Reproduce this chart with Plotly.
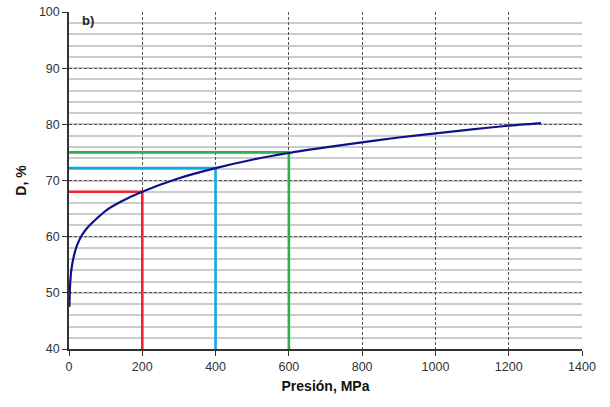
import plotly.graph_objects as go

# Curve data
presion = [1, 2.7, 6.4, 12.7, 22, 35.5, 49, 72, 100, 141, 198, 300, 400, 500, 599, 700, 799, 900, 1001, 1100, 1199, 1288]
densidad = [47.5, 51.1, 54.1, 56.4, 58.5, 60.3, 61.5, 63.0, 64.6, 66.2, 67.95, 70.4, 72.2, 73.7, 74.9, 75.9, 76.8, 77.65, 78.4, 79.1, 79.75, 80.2]

# Reference marker lines
ref_x = [200, 400, 600]
ref_y = [68.0, 72.2, 75.0]
ref_colors = ["#f5222d", "#12a8e8", "#2eb04a"]

x_ticks = [0, 200, 400, 600, 800, 1000, 1200, 1400]
y_ticks = [40, 50, 60, 70, 80, 90, 100]

fig = go.Figure()

for rx, ry, col in zip(ref_x, ref_y, ref_colors):
    fig.add_trace(go.Scatter(
        x=[0, rx, rx], y=[ry, ry, 40], mode="lines",
        line=dict(color=col, width=2.6), showlegend=False, hoverinfo="skip"))

fig.add_trace(go.Scatter(
    x=presion, y=densidad, mode="lines",
    line=dict(color="#10108a", width=2.2, shape="spline", smoothing=0.6),
    showlegend=False))

fig.add_annotation(x=30, y=98.5, text="<b>b)</b>", showarrow=False, xanchor="left",
                   font=dict(family="Liberation Sans, Arial", size=13, color="#222"))

axis_font = dict(family="Liberation Sans, Arial", size=12.5, color="#333")
title_font = dict(family="Liberation Sans, Arial", size=14, color="#111")

fig.update_layout(
    width=610, height=407,
    margin=dict(l=69, r=28, t=12, b=58),
    paper_bgcolor="white", plot_bgcolor="white",
    xaxis=dict(
        range=[0, 1400], tickvals=x_ticks, ticktext=[str(v) for v in x_ticks],
        showgrid=True, gridcolor="#555", griddash="3px,2px", gridwidth=1,
        showline=True, linecolor="#333", linewidth=1.5,
        ticks="outside", ticklen=5, tickcolor="#333",
        tickfont=axis_font, zeroline=False, automargin=False,
        title=dict(text="<b>Presión, MPa</b>", font=title_font, standoff=8),
    ),
    yaxis=dict(
        range=[40, 100], tickvals=y_ticks, ticktext=[str(v) for v in y_ticks],
        showgrid=True, gridcolor="#555", griddash="3px,2px", gridwidth=1,
        showline=True, linecolor="#333", linewidth=1.5,
        ticks="outside", ticklen=5, tickcolor="#333",
        tickfont=axis_font, zeroline=False, automargin=False,
        minor=dict(dtick=2, showgrid=True, gridcolor="#cccccc", gridwidth=1.5, griddash="solid", ticks=""),
        title=dict(text="<b>D, %</b>", font=title_font, standoff=9),
    ),
)

fig.write_html("out.html", config={"displayModeBar": False},
               post_script="document.body.style.margin='0';")
